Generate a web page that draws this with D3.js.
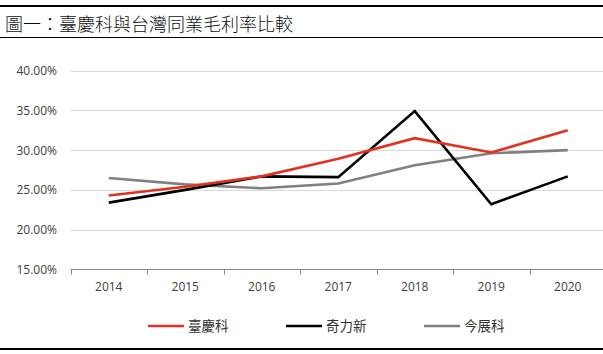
<!DOCTYPE html>
<html>
<head>
<meta charset="utf-8">
<script src="https://cdn.jsdelivr.net/npm/d3@7"></script>
<style>
  body { margin: 0; background: #fff; }
  svg { display: block; }
</style>
</head>
<body>
<div id="chart"></div>
<script>
const years = ["2014", "2015", "2016", "2017", "2018", "2019", "2020"];
const seriesNames = ["臺慶科", "奇力新", "今展科"];
const tkValues = [24.3, 25.4, 26.7, 28.9, 31.5, 29.7, 32.5];
const clnValues = [23.4, 25.0, 26.7, 26.6, 34.9, 23.2, 26.7];
const ttValues = [26.5, 25.7, 25.2, 25.8, 28.1, 29.6, 30.0];
const yTicks = [15, 20, 25, 30, 35, 40];

const width = 603, height = 354;
const colors = ["#e2321f", "#000000", "#808080"];
const series = [tkValues, clnValues, ttValues];

const svg = d3.select("#chart")
    .append("svg")
    .attr("width", width)
    .attr("height", height);

// frame lines and title
svg.append("line").attr("x1", 0).attr("x2", width).attr("y1", 6).attr("y2", 6)
    .attr("stroke", "#000").attr("stroke-width", 2);
svg.append("line").attr("x1", 0).attr("x2", width).attr("y1", 37.5).attr("y2", 37.5)
    .attr("stroke", "#000").attr("stroke-width", 1);
svg.append("line").attr("x1", 0).attr("x2", width).attr("y1", 349).attr("y2", 349)
    .attr("stroke", "#000").attr("stroke-width", 2);
svg.append("text")
    .attr("x", 5).attr("y", 31)
    .style("font-family", "'Noto Sans CJK TC'")
    .style("font-size", "18px")
    .style("font-weight", 300)
    .style("fill", "#111")
    .text("圖一：臺慶科與台灣同業毛利率比較");

// scales
const x = d3.scaleBand().domain(years).range([70.5, 606]);
const y = d3.scaleLinear().domain([15, 40]).range([269.5, 70.5]);

// gridlines
svg.append("g")
    .selectAll("line")
    .data(yTicks.filter(d => d > 15))
    .enter()
    .append("line")
    .attr("x1", 70.5).attr("x2", width)
    .attr("y1", d => Math.round(y(d)) + 0.5)
    .attr("y2", d => Math.round(y(d)) + 0.5)
    .attr("stroke", "#d9d9d9");

// y labels
svg.append("g")
    .selectAll("text")
    .data(yTicks)
    .enter()
    .append("text")
    .attr("x", 57)
    .attr("y", d => y(d) + 4.5)
    .attr("text-anchor", "end")
    .style("font-family", "'Open Sans'")
    .style("font-size", "12px")
    .style("fill", "#404040")
    .text(d => d.toFixed(2) + "%");

// x axis
const xAxis = svg.append("g")
    .attr("transform", "translate(0, 269.5)")
    .call(d3.axisBottom(x).tickSize(0).tickPadding(13));
xAxis.select(".domain").attr("stroke", "#868686").attr("d", "M70.5,0H" + width);
xAxis.selectAll("text")
    .style("font-family", "'Open Sans'")
    .style("font-size", "12px")
    .style("fill", "#404040");
// tick marks between categories
xAxis.selectAll(".sep")
    .data(years)
    .enter()
    .append("line")
    .attr("class", "sep")
    .attr("x1", d => Math.round(x(d)) + 0.5)
    .attr("x2", d => Math.round(x(d)) + 0.5)
    .attr("y1", 0).attr("y2", 5)
    .attr("stroke", "#868686");

// lines
const line = d3.line()
    .x((d, i) => x(years[i]) + x.bandwidth() / 2)
    .y(d => y(d));

svg.append("g")
    .selectAll("path")
    .data(series.slice().reverse())
    .enter()
    .append("path")
    .attr("d", line)
    .attr("fill", "none")
    .attr("stroke", (d, i) => colors.slice().reverse()[i])
    .attr("stroke-width", 2.6)
    .attr("stroke-linejoin", "miter");

// legend
const legendX = [148, 286, 424];
const legend = svg.append("g")
    .selectAll("g")
    .data(seriesNames)
    .enter()
    .append("g")
    .attr("transform", (d, i) => `translate(${legendX[i]}, 326)`);
legend.append("line")
    .attr("x1", 0).attr("x2", 36)
    .attr("stroke", (d, i) => colors[i])
    .attr("stroke-width", 2.6);
legend.append("text")
    .attr("x", 40).attr("y", 5)
    .style("font-family", "'Noto Sans CJK TC'")
    .style("font-size", "13.5px")
    .style("fill", "#333")
    .text(d => d);
</script>
</body>
</html>
